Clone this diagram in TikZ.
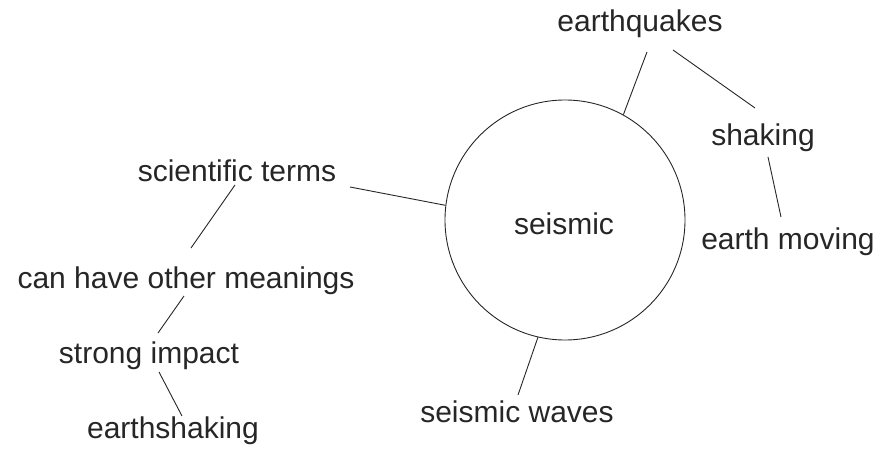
\documentclass[tikz,border=0pt]{standalone}
\usepackage{fontspec}
\setmainfont{Liberation Sans}
\begin{document}
\begin{tikzpicture}[x=1pt,y=-1pt,
  lbl/.style={anchor=base,inner sep=0pt,text=black!85,font=\fontsize{30}{36}\selectfont},
  link/.style={draw=black!85,line width=0.9pt},
  hub/.style={circle,draw=black!85,line width=0.9pt,minimum size=240pt,inner sep=0pt}]
\useasboundingbox (0,0) rectangle (884,454);
\node[hub] (c) at (565,220) {};
\node[lbl] (seis) at (564,235) {seismic};
\node[lbl] (eq) at (640,32) {earthquakes};
\node[lbl] (sh) at (763,146) {shaking};
\node[lbl] (em) at (788,250) {earth moving};
\node[lbl] (sci) at (237,182) {scientific terms};
\node[lbl] (can) at (186,289) {can have other meanings};
\node[lbl] (str) at (149,363) {strong impact};
\node[lbl] (esh) at (173,438) {earthshaking};
\node[lbl] (sw) at (517,422) {seismic waves};
\draw[link] (c.61.7) -- ([shift={(7,20)}]eq.base);
\draw[link] ([shift={(33,18)}]eq.base) -- ([shift={(-8,-38)}]sh.base);
\draw[link] ([shift={(5,11)}]sh.base) -- ([shift={(-7,-33)}]em.base);
\draw[link] (c.173.7) -- ([shift={(113,5)}]sci.base);
\draw[link] ([shift={(-2,3)}]sci.base) -- ([shift={(5,-41)}]can.base);
\draw[link] ([shift={(-2,7)}]can.base) -- ([shift={(9,-30)}]str.base);
\draw[link] ([shift={(10,9)}]str.base) -- ([shift={(9,-22)}]esh.base);
\draw[link] (c.257.7) -- ([shift={(1,-27)}]sw.base);
\end{tikzpicture}
\end{document}
